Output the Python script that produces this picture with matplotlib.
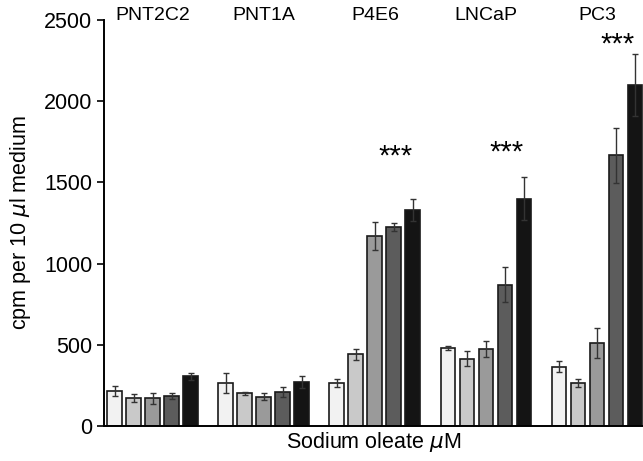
import numpy as np
import matplotlib
matplotlib.use("Agg")
import matplotlib.pyplot as plt

plt.rcParams["font.family"] = ["Liberation Sans", "DejaVu Sans"]

cell_lines = ["PNT2C2", "PNT1A", "P4E6", "LNCaP", "PC3"]
# one row per cell line, one column per oleate concentration
means = [
    [215, 170, 170, 185, 305],
    [265, 200, 180, 210, 270],
    [265, 440, 1170, 1225, 1330],
    [480, 415, 475, 870, 1400],
    [365, 265, 510, 1665, 2100],
]
errors = [
    [30, 25, 35, 20, 20],
    [60, 10, 20, 30, 35],
    [25, 35, 85, 25, 70],
    [15, 45, 50, 110, 135],
    [35, 25, 90, 170, 190],
]
# significance marks: cell line -> height of the "***"
stars = {"P4E6": 1660, "LNCaP": 1680, "PC3": 2350}
bar_colors = ["#f2f2f2", "#c9c9c9", "#9a9a9a", "#5c5c5c", "#141414"]

fig = plt.figure(figsize=(6.43, 4.61), dpi=100)
ax = fig.add_axes([0.162, 0.076, 0.838, 0.881])

pitch = 5.85
width = 0.78
for g, name in enumerate(cell_lines):
    x0 = g * pitch
    xs = x0 + np.arange(5)
    ax.bar(xs, means[g], width=width, color=bar_colors,
           edgecolor="#1a1a1a", linewidth=1.2, zorder=2)
    ax.errorbar(xs, means[g], yerr=errors[g], fmt="none",
                ecolor="#333333", elinewidth=1, capsize=2.5, capthick=1, zorder=3)
    ax.text(x0 + 2, 2525, name, ha="center", va="center", fontsize=14,
            clip_on=False)
    if name in stars:
        ax.text(x0 + 3.1, stars[name], "***", ha="center", va="center",
                fontsize=21)

ax.set_xlim(-0.55, 4 * pitch + 4.42)
ax.set_ylim(0, 2500)
ax.set_yticks([0, 500, 1000, 1500, 2000, 2500])
ax.set_xticks([])
ax.tick_params(axis="y", labelsize=15.5, direction="out", length=5, width=1.2)
for s in ["top", "right"]:
    ax.spines[s].set_visible(False)
ax.spines["left"].set_linewidth(1.4)
ax.spines["bottom"].set_linewidth(1.4)

ax.set_ylabel(r"cpm per 10 $\mu$l medium", fontsize=15.5, labelpad=8)
ax.set_xlabel(r"Sodium oleate $\mu$M", fontsize=15.5, labelpad=3)

fig.savefig("out.png", dpi=100)
